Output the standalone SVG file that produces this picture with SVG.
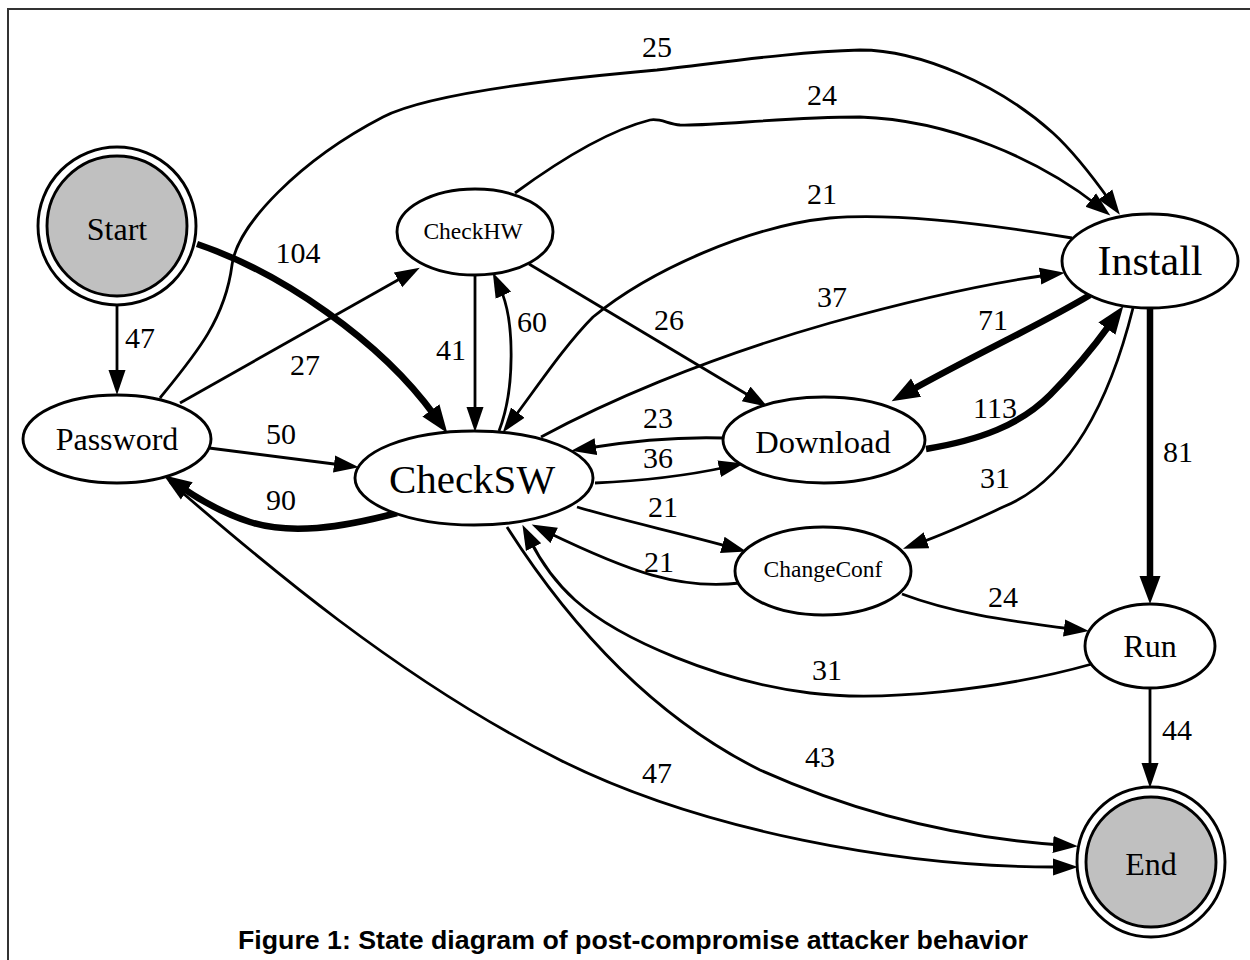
<svg xmlns="http://www.w3.org/2000/svg" width="1250" height="960" viewBox="0 0 1250 960">
<style>
.n{fill:#fff;stroke:#000;stroke-width:2.9}
.g{fill:#c0c0c0;stroke:#000;stroke-width:2.9}
.t{font-family:"Liberation Serif","Times New Roman",serif;fill:#000;text-anchor:middle}
.l{font-family:"Liberation Serif","Times New Roman",serif;font-size:30px;fill:#000;text-anchor:middle}
.e{fill:none;stroke:#000;stroke-width:2.8;marker-end:url(#a)}
.k{fill:none;stroke:#000;stroke-width:6.5;marker-end:url(#b)}
.cap{font-family:"Liberation Sans",Arial,sans-serif;font-weight:bold;font-size:25.5px;fill:#000;text-anchor:middle}
</style>
<defs>
<marker id="a" markerUnits="userSpaceOnUse" markerWidth="26" markerHeight="19" refX="8" refY="9" orient="auto"><path d="M0,0.5 L25,9 L0,17.5 z" fill="#000"/></marker>
<marker id="b" markerUnits="userSpaceOnUse" markerWidth="30" markerHeight="23" refX="7" refY="11" orient="auto"><path d="M0,0.5 L28,11 L0,21.5 z" fill="#000"/></marker>
</defs>
<rect width="1250" height="960" fill="#fff"/>
<path d="M8,960 L8,9 L1250,9" fill="none" stroke="#333" stroke-width="2"/>

<g id="connectors">
<path id="e-start-password" class="e" d="M117,305 L117,378"/>
<path id="e-start-checksw" class="k" d="M197,244 C280,272 380,340 435,416"/>
<path id="e-password-install" class="e" d="M160,398 C195,355 225,320 232,265 C237,225 300,160 383,117 C420,98 520,82 657,70 C720,63 790,52 860,50 C920,50 1000,85 1053,133 C1075,153 1095,180 1110,201"/>
<path id="e-checkhw-install" class="e" d="M515,193 C560,160 610,130 650,120 C660,118 668,124 680,125 C720,126 780,117 860,117 C950,120 1040,160 1097,205"/>
<path id="e-install-checksw" class="e" d="M1072,238 C1000,226 900,212 830,218 C750,226 650,270 593,317 C565,345 535,390 513,419"/>
<path id="e-checksw-install" class="e" d="M541,437 C600,405 700,360 830,323 C920,298 990,283 1048,275"/>
<path id="e-password-checkhw" class="e" d="M180,403 L405,276"/>
<path id="e-password-checksw" class="e" d="M209,448 L342,465"/>
<path id="e-checksw-password" class="k" d="M397,513 C340,528 290,535 250,522 C225,514 200,500 181,487"/>
<path id="e-checkhw-checksw" class="e" d="M475,275 L475,415"/>
<path id="e-checksw-checkhw" class="e" d="M499,431 C515,390 515,320 500,288"/>
<path id="e-checkhw-download" class="e" d="M529,264 L753,398"/>
<path id="e-install-download" class="k" d="M1090,295 C1040,325 980,352 910,391"/>
<path id="e-download-install" class="k" d="M926,449 C980,440 1020,425 1050,395 C1075,370 1095,345 1111,323"/>
<path id="e-install-changeconf" class="e" d="M1133,308 C1110,400 1070,480 1003,507 C975,520 950,532 919,543"/>
<path id="e-install-run" class="k" d="M1150,308 L1150,583"/>
<path id="e-download-checksw" class="e" d="M723,438 C690,437 650,438 588,448"/>
<path id="e-checksw-download" class="e" d="M595,483 C640,481 690,475 727,467"/>
<path id="e-checksw-changeconf" class="e" d="M577,507 C620,520 680,533 730,547"/>
<path id="e-changeconf-checksw" class="e" d="M740,583 C680,590 630,572 547,532"/>
<path id="e-changeconf-run" class="e" d="M902,594 C950,612 1000,620 1072,629"/>
<path id="e-run-checksw" class="e" d="M1092,664 C1000,690 880,702 810,693 C720,682 620,640 575,600 C555,582 540,560 530,540"/>
<path id="e-run-end" class="e" d="M1150,688 L1150,771"/>
<path id="e-checksw-end" class="e" d="M507,527 C560,610 640,710 760,770 C860,815 960,838 1061,845"/>
<path id="e-password-end" class="e" d="M170,482 C260,560 400,680 560,760 C700,830 900,868 1061,867"/>
</g>

<g id="labels">
<text class="l" x="140" y="348">47</text>
<text class="l" x="298" y="263">104</text>
<text class="l" x="657" y="57">25</text>
<text class="l" x="822" y="105">24</text>
<text class="l" x="822" y="204">21</text>
<text class="l" x="832" y="307">37</text>
<text class="l" x="305" y="375">27</text>
<text class="l" x="281" y="444">50</text>
<text class="l" x="281" y="510">90</text>
<text class="l" x="451" y="360">41</text>
<text class="l" x="532" y="332">60</text>
<text class="l" x="669" y="330">26</text>
<text class="l" x="993" y="330">71</text>
<text class="l" x="995" y="418">113</text>
<text class="l" x="995" y="488">31</text>
<text class="l" x="1178" y="462">81</text>
<text class="l" x="658" y="428">23</text>
<text class="l" x="658" y="468">36</text>
<text class="l" x="663" y="517">21</text>
<text class="l" x="659" y="572">21</text>
<text class="l" x="1003" y="607">24</text>
<text class="l" x="827" y="680">31</text>
<text class="l" x="1177" y="740">44</text>
<text class="l" x="820" y="767">43</text>
<text class="l" x="657" y="783">47</text>
</g>

<g id="node-start">
<circle class="n" cx="117" cy="226" r="79"/>
<circle class="g" cx="117" cy="226" r="70"/>
<text class="t" x="117" y="240" font-size="32">Start</text>
</g>
<g id="node-password">
<ellipse class="n" cx="117" cy="439" rx="94" ry="44"/>
<text class="t" x="117" y="450" font-size="32">Password</text>
</g>
<g id="node-checkhw">
<ellipse class="n" cx="475" cy="232" rx="78" ry="43"/>
<text class="t" x="473" y="239" font-size="23.5">CheckHW</text>
</g>
<g id="node-checksw">
<ellipse class="n" cx="474" cy="478" rx="119" ry="47"/>
<text class="t" x="472" y="493" font-size="41">CheckSW</text>
</g>
<g id="node-download">
<ellipse class="n" cx="824" cy="440" rx="101" ry="43"/>
<text class="t" x="823" y="453" font-size="32.5">Download</text>
</g>
<g id="node-changeconf">
<ellipse class="n" cx="823" cy="571" rx="88" ry="44"/>
<text class="t" x="823" y="577" font-size="23.5">ChangeConf</text>
</g>
<g id="node-install">
<ellipse class="n" cx="1150" cy="261" rx="88" ry="47"/>
<text class="t" x="1150" y="275" font-size="42">Install</text>
</g>
<g id="node-run">
<ellipse class="n" cx="1150" cy="646" rx="65" ry="42"/>
<text class="t" x="1150" y="657" font-size="32">Run</text>
</g>
<g id="node-end">
<ellipse class="n" cx="1151" cy="862" rx="74" ry="75"/>
<ellipse class="g" cx="1151" cy="862" rx="65" ry="65"/>
<text class="t" x="1151" y="875" font-size="32">End</text>
</g>

<text class="cap" x="633" y="949" textLength="790" lengthAdjust="spacingAndGlyphs">Figure 1: State diagram of post-compromise attacker behavior</text>
</svg>
